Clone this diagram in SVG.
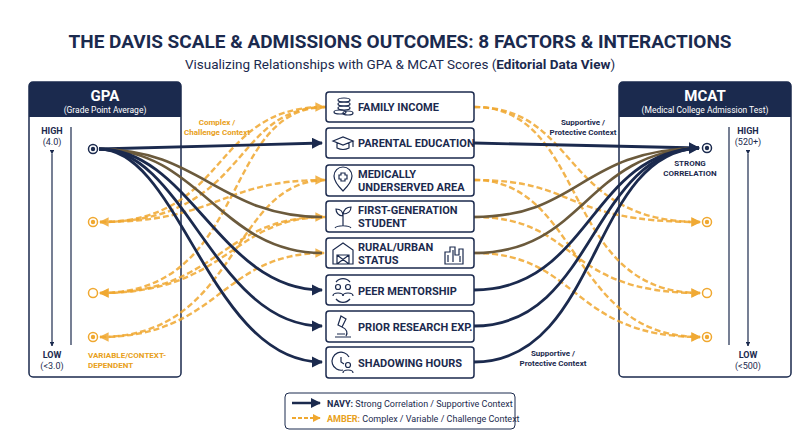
<svg xmlns="http://www.w3.org/2000/svg" width="800" height="447" viewBox="0 0 800 447">
<defs>
<marker id="an" viewBox="0 0 10 10" refX="9" refY="5" markerWidth="4" markerHeight="4" orient="auto"><path d="M0,0L10,5L0,10z" fill="#1b2a4e"/></marker>
<marker id="aa" viewBox="0 0 10 10" refX="9" refY="5" markerWidth="4" markerHeight="4" orient="auto"><path d="M0,0L10,5L0,10z" fill="#f0a830"/></marker>
<marker id="ab" viewBox="0 0 10 10" refX="9" refY="5" markerWidth="4" markerHeight="4" orient="auto"><path d="M0,0L10,5L0,10z" fill="#f0a830"/></marker>
</defs>
<style>
text{font-family:"Roboto","Liberation Sans",sans-serif}
.t{font-weight:bold;fill:#1b2a4e}
.panel{fill:#fff;stroke:#1b2a4e;stroke-width:1.5}
.hdr{fill:#1b2a4e}
.node{fill:#fff;stroke:#1b2a4e;stroke-width:1.5}
.nl{font-size:11px;font-weight:bold;fill:#1b2a4e}
.nv{fill:none;stroke:#1b2a4e;stroke-width:2.8}
.br{fill:none;stroke:#6b5a3c;stroke-width:2.6}
.am{fill:none;stroke:#f0a830;stroke-width:2.4;stroke-dasharray:6 3;opacity:.85}
.ic{fill:none;stroke:#1b2a4e;stroke-width:1.2}
.al{font-size:8px;font-weight:bold;fill:#e8a020}
.sl{font-size:8px;font-weight:bold;fill:#1b2a4e}
</style>
<rect width="800" height="447" fill="#fff"/>
<text x="400" y="48" text-anchor="middle" font-size="19" class="t">THE DAVIS SCALE &amp; ADMISSIONS OUTCOMES: 8 FACTORS &amp; INTERACTIONS</text>
<text x="400" y="69" text-anchor="middle" font-size="13.5" fill="#1b2a4e">Visualizing Relationships with GPA &amp; MCAT Scores (<tspan font-weight="bold">Editorial Data View</tspan>)</text>

<g id="gpa">
<rect class="panel" x="29" y="82" width="152" height="295" rx="4"/>
<path class="hdr" d="M33,82h144a4,4 0 0 1 4,4v31h-152v-31a4,4 0 0 1 4,-4z"/>
<text x="105" y="101" text-anchor="middle" font-size="15" font-weight="bold" fill="#fff">GPA</text>
<text x="105" y="113" text-anchor="middle" font-size="8.5" fill="#fff">(Grade Point Average)</text>
<text x="52" y="134" text-anchor="middle" font-size="9" class="t">HIGH</text>
<text x="52" y="145" text-anchor="middle" font-size="9" fill="#1b2a4e">(4.0)</text>
<line x1="52" y1="154" x2="52" y2="346" stroke="#1b2a4e" stroke-width="1.2" marker-start="url(#an)" marker-end="url(#an)"/>
<line x1="71" y1="127" x2="71" y2="345" stroke="#1b2a4e" stroke-width="1.2"/>
<text x="52" y="358" text-anchor="middle" font-size="9" class="t">LOW</text>
<text x="52" y="369" text-anchor="middle" font-size="9" fill="#1b2a4e">(&lt;3.0)</text>
<circle cx="93" cy="149" r="4.5" fill="#fff" stroke="#1b2a4e" stroke-width="1.5"/><circle cx="93" cy="149" r="2.2" fill="#1b2a4e"/>
<circle cx="93" cy="222" r="4.5" fill="#fff" stroke="#f0a830" stroke-width="1.5"/><circle cx="93" cy="222" r="2.2" fill="#f0a830"/>
<circle cx="93" cy="293" r="4.5" fill="#fff" stroke="#f0a830" stroke-width="1.5"/>
<circle cx="93" cy="337" r="4.5" fill="#fff" stroke="#f0a830" stroke-width="1.5"/><circle cx="93" cy="337" r="2.2" fill="#f0a830"/>
<text x="88" y="358" font-size="8" class="al">VARIABLE/CONTEXT-</text>
<text x="88" y="368" font-size="8" class="al">DEPENDENT</text>
</g>

<g id="mcat">
<rect class="panel" x="619" y="82" width="172" height="295" rx="4"/>
<path class="hdr" d="M623,82h164a4,4 0 0 1 4,4v31h-172v-31a4,4 0 0 1 4,-4z"/>
<text x="705" y="101" text-anchor="middle" font-size="15" font-weight="bold" fill="#fff">MCAT</text>
<text x="705" y="113" text-anchor="middle" font-size="8.5" fill="#fff">(Medical College Admission Test)</text>
<text x="748" y="134" text-anchor="middle" font-size="9" class="t">HIGH</text>
<text x="748" y="145" text-anchor="middle" font-size="9" fill="#1b2a4e">(520+)</text>
<line x1="748" y1="154" x2="748" y2="346" stroke="#1b2a4e" stroke-width="1.2" marker-start="url(#an)" marker-end="url(#an)"/>
<line x1="729" y1="127" x2="729" y2="345" stroke="#1b2a4e" stroke-width="1.2"/>
<text x="748" y="358" text-anchor="middle" font-size="9" class="t">LOW</text>
<text x="748" y="369" text-anchor="middle" font-size="9" fill="#1b2a4e">(&lt;500)</text>
<circle cx="707" cy="148" r="4.5" fill="#fff" stroke="#1b2a4e" stroke-width="1.5"/><circle cx="707" cy="148" r="2.2" fill="#1b2a4e"/>
<text x="690" y="166" text-anchor="middle" class="sl">STRONG</text>
<text x="690" y="176" text-anchor="middle" class="sl">CORRELATION</text>
<circle cx="707" cy="222" r="4.5" fill="#fff" stroke="#f0a830" stroke-width="1.5"/><circle cx="707" cy="222" r="2.2" fill="#f0a830"/>
<circle cx="707" cy="293" r="4.5" fill="#fff" stroke="#f0a830" stroke-width="1.5"/>
<circle cx="707" cy="337" r="4.5" fill="#fff" stroke="#f0a830" stroke-width="1.5"/><circle cx="707" cy="337" r="2.2" fill="#f0a830"/>
</g>

<g id="connectors">
<path class="am" d="M326,107 C230,107 250,222 100,222" marker-end="url(#aa)"/>
<path class="am" d="M326,107 C220,107 250,293 100,293" marker-end="url(#aa)"/>
<path class="am" d="M326,180 C230,180 240,337 100,337" marker-end="url(#aa)"/>
<path class="am" d="M326,217 C230,217 230,293 100,293" marker-end="url(#aa)"/>
<path class="am" d="M100,222 C220,222 220,180 324,180" marker-end="url(#aa)"/>
<path class="am" d="M100,293 C220,293 220,217 324,217" marker-end="url(#aa)"/>
<path class="am" d="M100,337 C220,337 220,253 324,253" marker-end="url(#aa)"/>
<path class="am" d="M100,222 C230,222 210,107 324,107" marker-end="url(#aa)"/>
<path class="am" d="M474,107 C580,107 560,222 700,222" marker-end="url(#aa)"/>
<path class="am" d="M474,107 C590,107 560,293 700,293" marker-end="url(#aa)"/>
<path class="am" d="M474,180 C580,180 560,222 700,222" marker-end="url(#aa)"/>
<path class="am" d="M474,180 C580,180 570,337 700,337" marker-end="url(#aa)"/>
<path class="am" d="M474,217 C580,217 560,293 700,293" marker-end="url(#aa)"/>
<path class="am" d="M474,253 C580,253 570,337 700,337" marker-end="url(#aa)"/>
<path class="nv" d="M99,149 L322,143" marker-end="url(#an)"/>
<path class="br" d="M99,149 C200,149 220,217 322,217"/>
<path class="br" d="M99,149 C200,149 220,253 322,253"/>
<path class="nv" d="M99,149 C190,149 220,290 322,290" marker-end="url(#an)"/>
<path class="nv" d="M99,149 C185,149 215,326 322,326" marker-end="url(#an)"/>
<path class="nv" d="M99,149 C180,149 210,362 322,362" marker-end="url(#an)"/>
<path class="nv" d="M474,143 L699,148" marker-end="url(#an)"/>
<path class="br" d="M474,217 C580,217 580,150 699,148"/>
<path class="br" d="M474,253 C585,253 585,152 699,148"/>
<path class="nv" d="M474,290 C590,290 590,152 699,148" marker-end="url(#an)"/>
<path class="nv" d="M474,326 C595,326 590,152 699,148"/>
<path class="nv" d="M474,362 C600,362 590,152 699,148"/>
<text x="217" y="125" text-anchor="middle" class="al">Complex /</text>
<text x="217" y="135" text-anchor="middle" class="al">Challenge Context</text>
<text x="583" y="125" text-anchor="middle" class="sl">Supportive /</text>
<text x="583" y="135" text-anchor="middle" class="sl">Protective Context</text>
<text x="553" y="356" text-anchor="middle" class="sl">Supportive /</text>
<text x="553" y="366" text-anchor="middle" class="sl">Protective Context</text>
</g>

<g id="n1"><rect class="node" x="326" y="92" width="148" height="30" rx="3"/>
<g class="ic"><ellipse cx="344" cy="100" rx="6" ry="2"/><ellipse cx="344" cy="104" rx="6" ry="2"/><ellipse cx="344" cy="108" rx="6" ry="2"/><ellipse cx="340" cy="112" rx="6" ry="2"/><ellipse cx="348" cy="113" rx="5" ry="2"/></g>
<text class="nl" x="358" y="111">FAMILY INCOME</text></g>
<g id="n2"><rect class="node" x="326" y="128" width="148" height="30" rx="3"/>
<g class="ic"><path d="M333,141l10,-4l10,4l-10,4z M337,143v5q6,3 12,0v-5 M353,141v6"/></g>
<text class="nl" x="358" y="147">PARENTAL EDUCATION</text></g>
<g id="n3"><rect class="node" x="326" y="165" width="148" height="31" rx="3"/>
<g class="ic"><path d="M343,191c-8,-8 -9,-12 -9,-15a9,9 0 0 1 18,0c0,3 -1,7 -9,15z M341,173h4v2h2v4h-2v2h-4v-2h-2v-4h2z"/></g>
<text class="nl" x="358" y="178">MEDICALLY</text><text class="nl" x="358" y="191">UNDERSERVED AREA</text></g>
<g id="n4"><rect class="node" x="326" y="201" width="148" height="31" rx="3"/>
<g class="ic"><path d="M343,226v-12 M343,216c-5,0 -7,-4 -7,-7c4,0 7,2 7,7 M343,214c1,-5 4,-7 8,-7c0,4 -3,7 -8,7 M335,228c2,-3 14,-3 16,0"/></g>
<text class="nl" x="358" y="214">FIRST-GENERATION</text><text class="nl" x="358" y="227">STUDENT</text></g>
<g id="n5"><rect class="node" x="326" y="238" width="148" height="30" rx="3"/>
<g class="ic"><path d="M333,264v-14l10,-7l10,7v14z M337,264v-9h12v9 M337,255l12,9 M349,255l-12,9"/><path d="M445,264v-12h5v-5h5v8h4v-6h4v15z M448,255v7 M453,250v12 M460,256v6"/></g>
<text class="nl" x="358" y="251">RURAL/URBAN</text><text class="nl" x="358" y="264">STATUS</text></g>
<g id="n6"><rect class="node" x="326" y="275" width="148" height="30" rx="3"/>
<g class="ic"><circle cx="338" cy="287" r="2.5"/><path d="M333,296c0,-4 10,-4 10,0"/><circle cx="348" cy="287" r="2.5"/><path d="M343,296c0,-4 10,-4 10,0"/><path d="M336,282a9,9 0 0 1 14,0 M350,299a9,9 0 0 1 -14,0"/></g>
<text class="nl" x="358" y="295">PEER MENTORSHIP</text></g>
<g id="n7"><rect class="node" x="326" y="311" width="148" height="31" rx="3"/>
<g class="ic"><path d="M341,316l5,3l-4,8l-4,-2z M342,327c5,2 6,6 4,9 M335,337h16 M337,334h8"/></g>
<text class="nl" x="358" y="331">PRIOR RESEARCH EXP.</text></g>
<g id="n8"><rect class="node" x="326" y="347" width="148" height="31" rx="3"/>
<g class="ic"><path d="M349,357a9,9 0 1 0 -6,13 M341,357v5l3,2"/><circle cx="348" cy="365" r="2.5"/><path d="M343,373c0,-4 10,-4 10,0"/></g>
<text class="nl" x="358" y="367">SHADOWING HOURS</text></g>

<g id="legend">
<rect x="285" y="393" width="230" height="36" rx="4" fill="#fff" stroke="#1b2a4e" stroke-width="1"/>
<line x1="292" y1="403" x2="320" y2="403" stroke="#1b2a4e" stroke-width="2.5" marker-end="url(#an)"/>
<line x1="292" y1="418" x2="320" y2="418" stroke="#f0a830" stroke-width="2" stroke-dasharray="4 2" marker-end="url(#ab)"/>
<text x="327" y="407" font-size="9" fill="#1b2a4e"><tspan font-weight="bold">NAVY:</tspan> Strong Correlation / Supportive Context</text>
<text x="327" y="422" font-size="9" fill="#1b2a4e"><tspan font-weight="bold" fill="#e8a020">AMBER:</tspan> Complex / Variable / Challenge Context</text>
</g>
</svg>
